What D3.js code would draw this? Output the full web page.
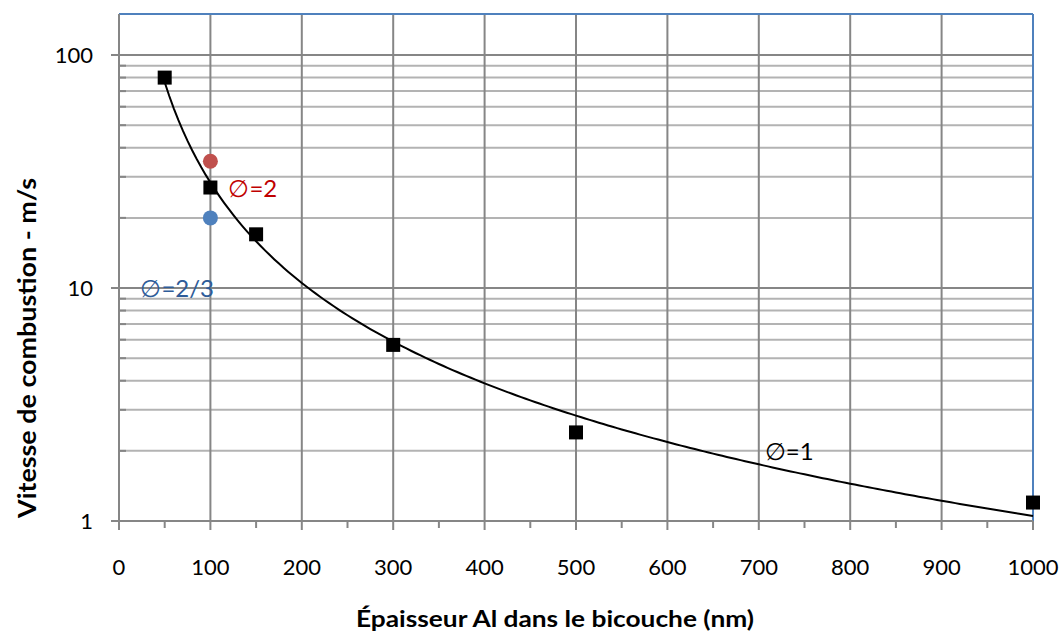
<!DOCTYPE html>
<html><head><meta charset="utf-8">
<script src="https://cdn.jsdelivr.net/npm/d3@7"></script>
<style>
html,body{margin:0;padding:0;background:#fff;}
svg{display:block;font-family:Lato,"Open Sans",sans-serif;}
</style></head>
<body>
<svg id="c" width="1063" height="636"></svg>
<script>
// Data
const thickness = [50, 100, 150, 300, 500, 1000];
const speed = [80, 27, 17, 5.7, 2.4, 1.2];
const phi2 = {x: 100, y: 35};
const phi23 = {x: 100, y: 20};
const xTicks = [0,100,200,300,400,500,600,700,800,900,1000];
const yTicks = [1, 10, 100];
const yMinor = [2,3,4,5,6,7,8,9,20,30,40,50,60,70,80,90];
const labels = [
  {text: "\u2205=2", x: 100, y: 27, dx: 18, color: "#C00000"},
  {text: "\u2205=2/3", x: 100, y: 10, dx: -70, color: "#2E5C99"},
  {text: "\u2205=1", x: 700, y: 2, dx: 6, color: "#000000"}
];

const svg = d3.select("#c");
const L = 119, R = 1033, T = 14, B = 521;
const x = d3.scaleLinear().domain([0, 1000]).range([L, R]);
const y = d3.scaleLog().domain([1, 150]).range([B, T]);

// minor horizontal grid
svg.append("g").selectAll("line").data(yMinor).join("line")
  .attr("x1", L).attr("x2", R).attr("y1", d => y(d)).attr("y2", d => y(d))
  .attr("stroke", "#B3B3B3").attr("stroke-width", 2);
// major horizontal grid
svg.append("g").selectAll("line").data([10, 100]).join("line")
  .attr("x1", L).attr("x2", R).attr("y1", d => y(d)).attr("y2", d => y(d))
  .attr("stroke", "#868686").attr("stroke-width", 2);
// vertical grid
svg.append("g").selectAll("line").data(xTicks.slice(1, -1)).join("line")
  .attr("x1", d => x(d)).attr("x2", d => x(d)).attr("y1", T).attr("y2", B)
  .attr("stroke", "#868686").attr("stroke-width", 2);

// y minor ticks (inside)
svg.append("g").selectAll("line").data(yMinor).join("line")
  .attr("x1", L).attr("x2", L + 7).attr("y1", d => y(d)).attr("y2", d => y(d))
  .attr("stroke", "#868686").attr("stroke-width", 2);
// y major ticks
svg.append("g").selectAll("line").data(yTicks).join("line")
  .attr("x1", L - 8).attr("x2", L).attr("y1", d => y(d)).attr("y2", d => y(d))
  .attr("stroke", "#868686").attr("stroke-width", 2);
// x ticks
svg.append("g").selectAll("line").data(xTicks).join("line")
  .attr("x1", d => x(d)).attr("x2", d => x(d)).attr("y1", B).attr("y2", B + 9)
  .attr("stroke", "#868686").attr("stroke-width", 2);
svg.append("g").selectAll("line").data(d3.range(50, 1000, 100)).join("line")
  .attr("x1", d => x(d)).attr("x2", d => x(d)).attr("y1", B).attr("y2", B + 7)
  .attr("stroke", "#868686").attr("stroke-width", 2);

// borders
svg.append("line").attr("x1", L).attr("x2", R).attr("y1", T).attr("y2", T)
  .attr("stroke", "#4F81BD").attr("stroke-width", 2);
svg.append("line").attr("x1", R).attr("x2", R).attr("y1", T).attr("y2", B)
  .attr("stroke", "#4F81BD").attr("stroke-width", 2);
svg.append("line").attr("x1", L).attr("x2", L).attr("y1", T).attr("y2", B + 1)
  .attr("stroke", "#868686").attr("stroke-width", 2);
svg.append("line").attr("x1", L - 8).attr("x2", R).attr("y1", B).attr("y2", B)
  .attr("stroke", "#868686").attr("stroke-width", 2);

// tick labels
svg.append("g").selectAll("text").data(xTicks).join("text")
  .attr("x", d => x(d)).attr("y", B + 54).attr("text-anchor", "middle")
  .attr("font-size", 22).attr("fill", "#000").text(d => d);
svg.append("g").selectAll("text").data(yTicks).join("text")
  .attr("x", L - 26).attr("y", d => y(d) + 8).attr("text-anchor", "end")
  .attr("font-size", 22).attr("fill", "#000").text(d => d);

// power trend line fitted from data (least squares in log space)
const lx = thickness.map(Math.log), ly = speed.map(Math.log);
const mx = d3.mean(lx), my = d3.mean(ly);
const b = d3.sum(lx.map((v, i) => (v - mx) * (ly[i] - my))) / d3.sum(lx.map(v => (v - mx) ** 2));
const a = Math.exp(my - b * mx);
const curveX = d3.range(50, 1000.1, 5);
svg.append("path")
  .attr("d", d3.line().x(d => x(d)).y(d => y(a * Math.pow(d, b)))(curveX))
  .attr("fill", "none").attr("stroke", "#000").attr("stroke-width", 2);

// circles
svg.append("circle").attr("cx", x(phi2.x)).attr("cy", y(phi2.y)).attr("r", 7.5).attr("fill", "#C0504D");
svg.append("circle").attr("cx", x(phi23.x)).attr("cy", y(phi23.y)).attr("r", 7.5).attr("fill", "#4F81BD");

// squares
svg.append("g").selectAll("rect").data(thickness).join("rect")
  .attr("x", d => x(d) - 7).attr("y", (d, i) => y(speed[i]) - 7)
  .attr("width", 14).attr("height", 14).attr("fill", "#000");

// annotations
svg.append("g").selectAll("text").data(labels).join("text")
  .attr("x", d => x(d.x) + d.dx).attr("y", d => y(d.y) + 9)
  .attr("font-size", 24).attr("fill", d => d.color).text(d => d.text);

// axis titles
svg.append("text").attr("x", 555).attr("y", 627).attr("text-anchor", "middle")
  .attr("font-size", 23).attr("font-weight", "bold")
  .attr("textLength", 398).attr("lengthAdjust", "spacingAndGlyphs")
  .text("Épaisseur Al dans le bicouche (nm)");
svg.append("text").attr("transform", "translate(36,348) rotate(-90)")
  .attr("text-anchor", "middle").attr("font-size", 25).attr("font-weight", "bold")
  .attr("textLength", 340).attr("lengthAdjust", "spacingAndGlyphs")
  .text("Vitesse de combustion - m/s");
</script>
</body></html>
